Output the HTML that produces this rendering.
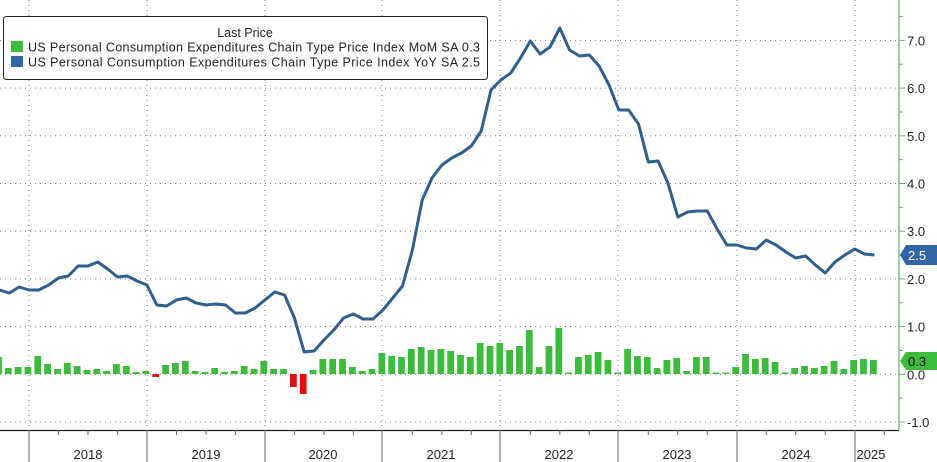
<!DOCTYPE html>
<html><head><meta charset="utf-8"><style>
html,body{margin:0;padding:0;background:#fff;width:937px;height:462px;overflow:hidden}
svg{display:block;font-family:"Liberation Sans",sans-serif}
</style></head><body>
<svg id="s" width="937" height="462" viewBox="0 0 937 462" xmlns="http://www.w3.org/2000/svg">
<g id="grid" stroke="#777" stroke-width="1" stroke-dasharray="1,4"></g>
<g id="bars"></g>
<polyline id="line" fill="none" stroke="#2f5f8f" stroke-width="3" stroke-linejoin="round"/>
<line x1="899" y1="0" x2="899" y2="430" stroke="#5cb85c" stroke-width="1.2"/>
<g id="ax" font-size="13" fill="#222"></g>
<line x1="0" y1="430.5" x2="899" y2="430.5" stroke="#222" stroke-width="1.2"/>
<g id="xax" stroke="#666" stroke-width="1"></g>
<g font-size="13" fill="#222" text-anchor="middle">
<text x="88" y="459">2018</text><text x="206" y="459">2019</text><text x="323" y="459">2020</text>
<text x="441" y="459">2021</text><text x="559" y="459">2022</text><text x="677" y="459">2023</text>
<text x="796" y="459">2024</text><text x="871" y="459">2025</text>
</g>
<path d="M900,255 L906,245 L937,245 L937,265 L906,265 Z" fill="#2f66a3"/>
<text x="908" y="260" font-size="13" fill="#fff">2.5</text>
<path d="M900,361 L906,352 L937,352 L937,370 L906,370 Z" fill="#3dbb3d"/>
<text x="908" y="366" font-size="13" fill="#111">0.3</text>
<rect x="3.5" y="16.5" width="484" height="63" rx="3" fill="#fff" stroke="#222" stroke-width="1"/>
<text x="245" y="37" font-size="12.5" text-anchor="middle" fill="#222">Last Price</text>
<rect x="11" y="41" width="12" height="11" fill="#3dbb3d"/>
<rect x="11" y="56" width="12" height="11" fill="#2f66a3"/>
<text x="28" y="51.5" font-size="12.5" fill="#222" textLength="452">US Personal Consumption Expenditures Chain Type Price Index MoM SA 0.3</text>
<text x="28" y="66.5" font-size="12.5" fill="#222" textLength="452">US Personal Consumption Expenditures Chain Type Price Index YoY SA  2.5</text>
</svg>
<script>
var NS="http://www.w3.org/2000/svg";
function el(p,t,a){var e=document.createElementNS(NS,t);for(var k in a)e.setAttribute(k,a[k]);document.getElementById(p).appendChild(e);return e;}
function Y(v){return 374.3-47.7*v;}
for(var v=-1;v<=7;v++){el("grid","line",{x1:0,x2:899,y1:Y(v),y2:Y(v)});
 el("ax","line",{x1:899,x2:905,y1:Y(v),y2:Y(v),stroke:"#5cb85c"});
 var t=el("ax","text",{x:907,y:Y(v)+5});t.textContent=(v<0?"-":"")+Math.abs(v).toFixed(1);
 el("ax","line",{x1:899,x2:903,y1:Y(v+0.5),y2:Y(v+0.5),stroke:"#5cb85c"});}
var yrs=[29,147,265,382,500,618,737,855];
yrs.forEach(function(x){el("grid","line",{x1:x,x2:x,y1:0,y2:430});el("xax","line",{x1:x,x2:x,y1:430,y2:462});});
for(var m=-3;m<=89;m++){if(m%3==0&&m%12!=0){var x=29+9.83*m;el("xax","line",{x1:x,x2:x,y1:430,y2:435});}}
var tops=[357,368,367,367,356,364,369,363,366,370,369,371,364,366,372,371,377,365,363,361,371,372,368,372,371,366,369,361,369,369,387,394,370,359,359,359,367,371,369,353,356,357,349,347,350,349,351,355,357,
343,346,343,350,346,330,367,346,328,373,357,355,352,360,373,349,356,357,368,360,358,371,357,357,373,374,367,354,359,358,362,374,368,366,368,366,361,369,360,359,360];
var red=[16,30,31];
tops.forEach(function(t,i){var x=8.3+9.83*(i-1);var neg=red.indexOf(i)>=0;
 var y0=neg?374:Math.min(t,372.5),h=neg?t-374:374-y0;if(h<1.5){y0=373;h=1.5;}
 el("bars","rect",{x:x-3.4,y:y0,width:6.8,height:h,fill:neg?"#e01010":"#3dbb3d"});});
var ly=[290,293,287,290,290,285,278,276,266,266,262,269,277,276,281,285,305,306,300,298,303,305,304,305,313,313,308,300,292,295,318,352,351,340,330,318,314,319,319,310,298,286,250,200,178,165,158,153,146,131,90,80,73,58,41,54,47,28,50,56,55,66,85,110,110,124,162,161,183,217,212,211,211,229,245,245,248,249,240,245,252,258,256,265,273,262,255,249,254,255];
document.getElementById("line").setAttribute("points",ly.map(function(y,i){return (-0.5+9.83*i).toFixed(1)+","+y;}).join(" "));
</script>
</body></html>
